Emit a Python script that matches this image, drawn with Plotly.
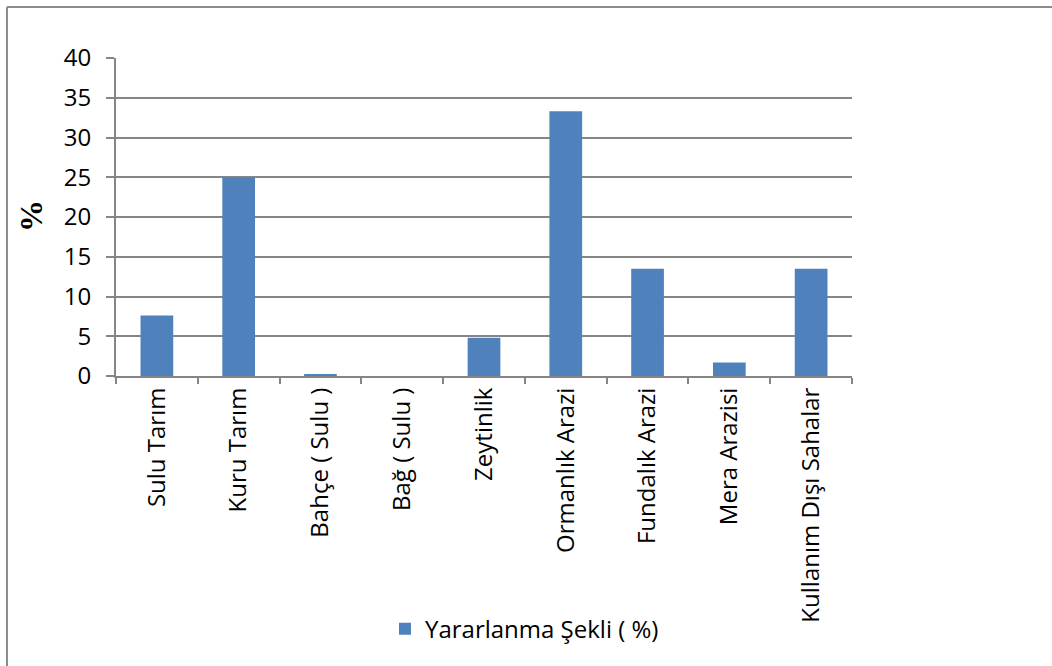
import plotly.graph_objects as go

categories = ["Sulu Tarım", "Kuru Tarım", "Bahçe ( Sulu )", "Bağ ( Sulu )", "Zeytinlik",
              "Ormanlık Arazi", "Fundalık Arazi", "Mera Arazisi", "Kullanım Dışı Sahalar"]
values = [7.6, 25.0, 0.2, 0.0, 4.8, 33.3, 13.5, 1.7, 13.5]
series_name = "Yararlanma Şekli ( %)"
y_ticks = [0, 5, 10, 15, 20, 25, 30, 35, 40]

FONT = "Open Sans"
GRID = "#868686"
FS = 24

fig = go.Figure()
fig.add_trace(go.Bar(
    x=categories, y=values, name=series_name,
    marker=dict(color="#4F81BD", line=dict(width=0)),
))

# frame lines along the top and left edges of the chart area
frame_x = (7 - 116) / 736
frame_y = (376 - 7) / 318

fig.update_layout(
    width=1052, height=666,
    margin=dict(l=116, r=200, t=58, b=290),
    paper_bgcolor="white", plot_bgcolor="white",
    font=dict(family=FONT, size=FS, color="#000000"),
    bargap=0.6,
    showlegend=True,
    legend=dict(x=0.555, y=-0.796, xanchor="center", yanchor="middle",
                orientation="h", font=dict(size=FS, family=FONT),
                bgcolor="rgba(0,0,0,0)", itemwidth=30),
    xaxis=dict(
        type="category", tickangle=-90, ticks="outside", tickson="boundaries",
        ticklen=6, tickcolor=GRID, tickwidth=1.5,
        showline=True, linecolor=GRID, linewidth=2,
        showgrid=False, tickfont=dict(size=FS, family=FONT),
    ),
    yaxis=dict(
        range=[0, 40], tickvals=y_ticks, ticks="outside", ticklen=8,
        tickcolor=GRID, tickwidth=1.5, ticklabelstandoff=10,
        showline=True, linecolor=GRID, linewidth=2,
        showgrid=True, gridcolor=GRID, gridwidth=1.5,
        zeroline=False, tickfont=dict(size=FS, family=FONT),
    ),
    annotations=[dict(
        text="<b>%</b>", xref="paper", yref="paper",
        x=(31 - 116) / 736, y=(376 - 216) / 318,
        xanchor="center", yanchor="middle",
        showarrow=False, textangle=-90,
        font=dict(family="Liberation Serif", size=32, color="#000000"),
    )],
    shapes=[
        dict(type="line", xref="paper", yref="paper",
             x0=frame_x, x1=1.5, y0=frame_y, y1=frame_y,
             line=dict(color="#8C8C8C", width=2)),
        dict(type="line", xref="paper", yref="paper",
             x0=frame_x, x1=frame_x, y0=-1.5, y1=frame_y,
             line=dict(color="#8C8C8C", width=2)),
    ],
)

fig.write_html("out.html")
